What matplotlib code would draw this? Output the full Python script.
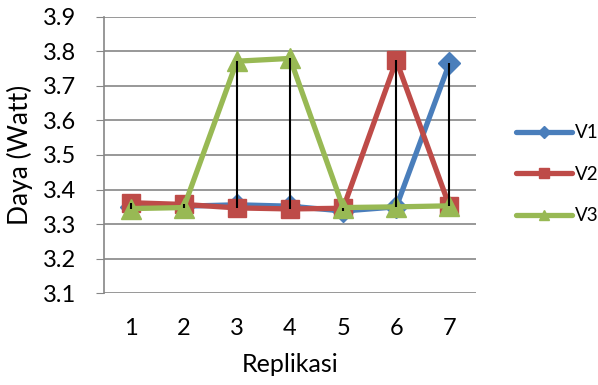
#import libraries
import matplotlib.pyplot as plt
import numpy as np

#data
replikasi = [1, 2, 3, 4, 5, 6, 7]
v1 = [3.350, 3.352, 3.356, 3.352, 3.338, 3.350, 3.765]
v2 = [3.362, 3.357, 3.347, 3.344, 3.346, 3.773, 3.352]
v3 = [3.345, 3.348, 3.771, 3.779, 3.348, 3.350, 3.353]
series_names = ["V1", "V2", "V3"]
y_ticks = [3.1, 3.2, 3.3, 3.4, 3.5, 3.6, 3.7, 3.8, 3.9]

#styles
colors = ["#4A7EBB", "#BE4B48", "#98B954"]
markers = ["D", "s", "^"]
msizes = [11, 13, 14]
plt.rcParams['font.family'] = ['Lato', 'DejaVu Sans']

fig = plt.figure(figsize=(5.98, 3.85), dpi=100)
ax = fig.add_axes([0.174, 0.238, 0.622, 0.719])

#series lines
for vals, name, c, m, ms in zip([v1, v2, v3], series_names, colors, markers, msizes):
    ax.plot(replikasi, vals, color=c, marker=m, markersize=ms, linewidth=3.8,
            label=name, zorder=3, solid_capstyle='round', solid_joinstyle='round')

#high-low lines
all_vals = np.array([v1, v2, v3])
ax.vlines(replikasi, all_vals.min(axis=0), all_vals.max(axis=0), color="black",
          linewidth=1.5, zorder=4)

ax.set_ylim(3.1, 3.9)
ax.set_xlim(0.5, 7.5)
ax.set_yticks(y_ticks)
ax.set_yticklabels(["%.1f" % t for t in y_ticks])
ax.set_xticks(replikasi)
ax.yaxis.grid(True, color="#868686", linewidth=1.2)
ax.set_axisbelow(True)
for s in ["top", "right", "bottom"]:
    ax.spines[s].set_visible(False)
ax.spines["left"].set_color("#868686")
ax.spines["left"].set_linewidth(1.2)
ax.tick_params(axis="y", length=6, color="#868686", labelsize=17, pad=14)
ax.tick_params(axis="x", length=0, labelsize=17, pad=18)
ax.set_xlabel("Replikasi", fontsize=18)
ax.set_ylabel("Daya (Watt)", fontsize=19)
ax.xaxis.set_label_coords(0.5, -0.215)
ax.yaxis.set_label_coords(-0.19, 0.5)

leg = ax.legend(loc="center left", bbox_to_anchor=(1.063, 0.43), frameon=False,
                fontsize=13.5, handlelength=2.95, labelspacing=1.3, handletextpad=0.2,
                markerscale=0.55)

plt.savefig("out.png", dpi=100)
